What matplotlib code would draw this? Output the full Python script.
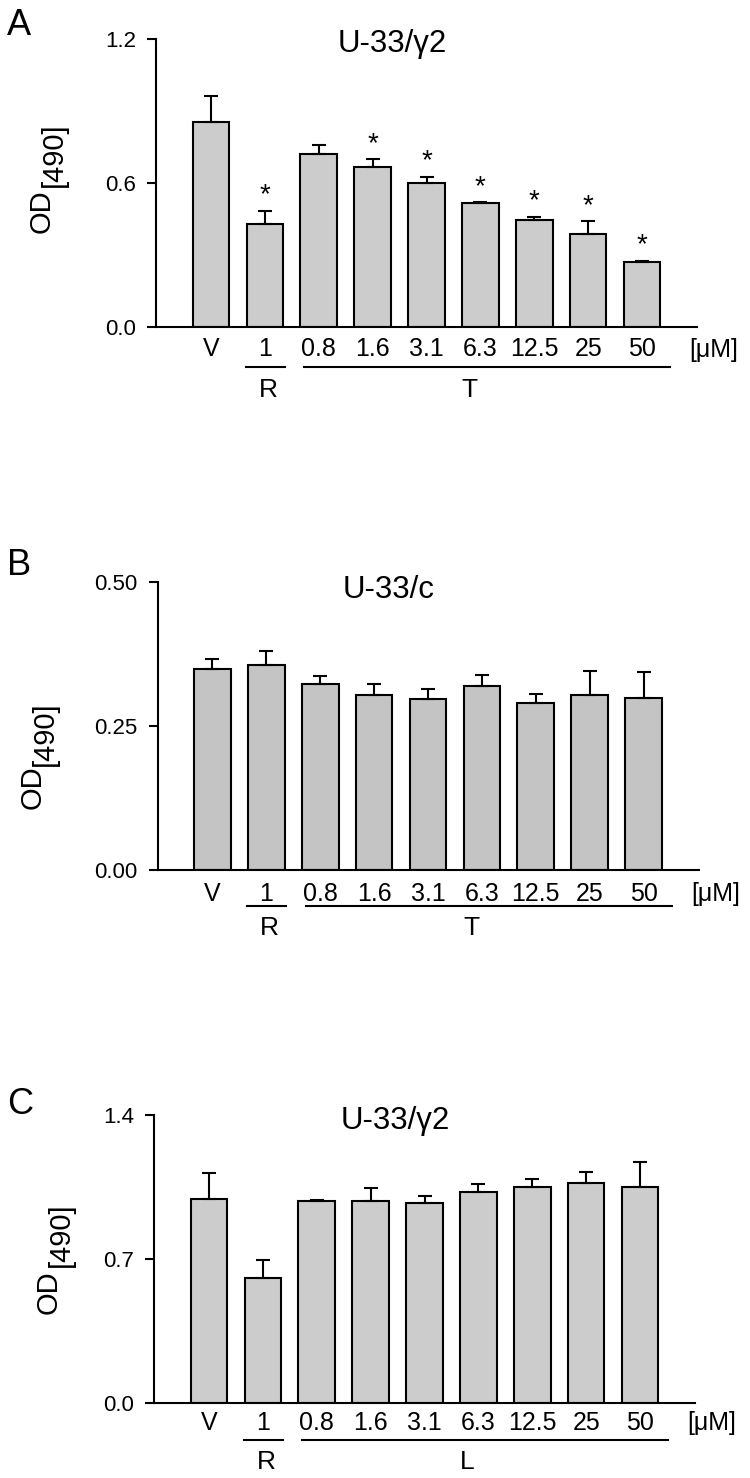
import matplotlib
matplotlib.use("Agg")
import matplotlib.pyplot as plt
from matplotlib import transforms

plt.rcParams['font.family'] = ['Liberation Sans', 'DejaVu Sans']

# ---------------- data ----------------
categories = ["V", "1", "0.8", "1.6", "3.1", "6.3", "12.5", "25", "50"]

a_values = [0.855, 0.427, 0.720, 0.668, 0.599, 0.515, 0.445, 0.388, 0.269]
a_errors = [0.110, 0.056, 0.039, 0.032, 0.026, 0.004, 0.014, 0.052, 0.007]
a_stars = [False, True, False, True, True, True, True, True, True]

b_values = [0.350, 0.356, 0.324, 0.305, 0.298, 0.319, 0.290, 0.305, 0.299]
b_errors = [0.016, 0.024, 0.013, 0.018, 0.017, 0.020, 0.016, 0.040, 0.045]
b_stars = [False] * 9

c_values = [0.991, 0.607, 0.981, 0.983, 0.970, 1.025, 1.052, 1.067, 1.049]
c_errors = [0.125, 0.088, 0.004, 0.063, 0.034, 0.037, 0.038, 0.054, 0.122]
c_stars = [False] * 9

panels = [
    dict(letter="A", title="U-33/\u03b32", values=a_values, errors=a_errors, stars=a_stars,
         ylim=1.2, yticks=[0.0, 0.6, 1.2], yticklabels=["0.0", "0.6", "1.2"], group="T",
         rect=[156 / 750, 1 - 326.7 / 1478, 541 / 750, 287.4 / 1478], color="#cccccc",
         letter_y=35, title_x=3.36, title_y=0.957,
         lab=20.8, line=40.0, grp=60.8, od_x=41.5, br_x=54, od_y=0.403, br_y=0.598),
    dict(letter="B", title="U-33/c", values=b_values, errors=b_errors, stars=b_stars,
         ylim=0.5, yticks=[0.0, 0.25, 0.5], yticklabels=["0.00", "0.25", "0.50"], group="T",
         rect=[157.5 / 750, 1 - 870 / 1478, 541 / 750, 287.7 / 1478], color="#c4c4c4",
         letter_y=575, title_x=3.27, title_y=0.945,
         lab=22.0, line=36.0, grp=56.0, od_x=32.5, br_x=45, od_y=0.289, br_y=0.473),
    dict(letter="C", title="U-33/\u03b32", values=c_values, errors=c_errors, stars=c_stars,
         ylim=1.4, yticks=[0.0, 0.7, 1.4], yticklabels=["0.0", "0.7", "1.4"], group="L",
         rect=[154 / 750, 1 - 1402.7 / 1478, 541 / 750, 287.7 / 1478], color="#cccccc",
         letter_y=1114, title_x=3.45, title_y=0.951,
         lab=18.7, line=37.7, grp=57.0, od_x=48.5, br_x=61, od_y=0.385, br_y=0.583),
]

fig = plt.figure(figsize=(7.5, 14.78), dpi=100)
PX = 0.72  # points per pixel at dpi 100

for p in panels:
    ax = fig.add_axes(p["rect"])
    x = list(range(len(categories)))
    ax.bar(x, p["values"], width=0.68, color=p["color"], edgecolor="black",
           linewidth=1.5, zorder=2)
    ax.errorbar(x, p["values"], yerr=[[0] * len(x), p["errors"]], fmt="none",
                ecolor="black", elinewidth=1.5, capsize=5, capthick=1.5, zorder=3)
    ax.set_xlim(-1.02, 9.02)
    ax.set_ylim(0, p["ylim"])
    ax.set_yticks(p["yticks"])
    ax.set_yticklabels(p["yticklabels"], fontsize=16)
    ax.tick_params(axis="y", direction="out", length=6.5, width=1.5, pad=8)
    ax.set_xticks(x)
    ax.set_xticklabels(categories, fontsize=18)
    hpx = p["rect"][3] * 1478
    ax.tick_params(axis="x", length=0, pad=(p["lab"] + 9) * PX)
    for t in ax.get_xticklabels():
        t.set_verticalalignment("baseline")
    for s in ["top", "right"]:
        ax.spines[s].set_visible(False)
    for s in ["left", "bottom"]:
        ax.spines[s].set_linewidth(1.5)

    # stars
    for i, (v, e, st) in enumerate(zip(p["values"], p["errors"], p["stars"])):
        if st:
            ax.annotate("*", xy=(i, v + e), xytext=(0, 6), textcoords="offset points",
                        ha="center", va="baseline", fontsize=20)

    # unit label
    ax.annotate("[\u03bcM]", xy=(9.33, 0), xycoords=("data", "axes fraction"),
                xytext=(0, -(p["lab"] + 9) * PX), textcoords="offset points",
                ha="center", va="baseline", fontsize=18, annotation_clip=False)

    # group underlines
    trans = transforms.blended_transform_factory(ax.transData, ax.transAxes)
    yl = -p["line"] / hpx
    ax.plot([0.65, 1.37], [yl, yl], color="black", lw=1.5, transform=trans, clip_on=False)
    ax.plot([1.73, 8.52], [yl, yl], color="black", lw=1.5, transform=trans, clip_on=False)
    yg = -(p["grp"] + 9.5) / hpx
    ax.text(1.06, yg, "R", transform=trans, ha="center", va="baseline", fontsize=19)
    ax.text(4.8, yg, p["group"], transform=trans, ha="center", va="baseline", fontsize=19)

    # title
    ax.text(p["title_x"], p["title_y"], p["title"], transform=trans, ha="center",
            va="baseline", fontsize=22.5)

    # y label: "OD" with lowered "[490]"
    bottom_px = 1478 * (1 - p["rect"][1])
    fig.text(p["od_x"] / 750, 1 - (bottom_px - p["od_y"] * hpx) / 1478, "OD",
             rotation=90, ha="center", va="center", fontsize=21)
    fig.text(p["br_x"] / 750, 1 - (bottom_px - p["br_y"] * hpx) / 1478, "[490]",
             rotation=90, ha="center", va="center", fontsize=21)

    # panel letter
    fig.text(7 / 750, 1 - p["letter_y"] / 1478, p["letter"], ha="left", va="baseline",
             fontsize=26)

fig.savefig("out.png", dpi=100)
